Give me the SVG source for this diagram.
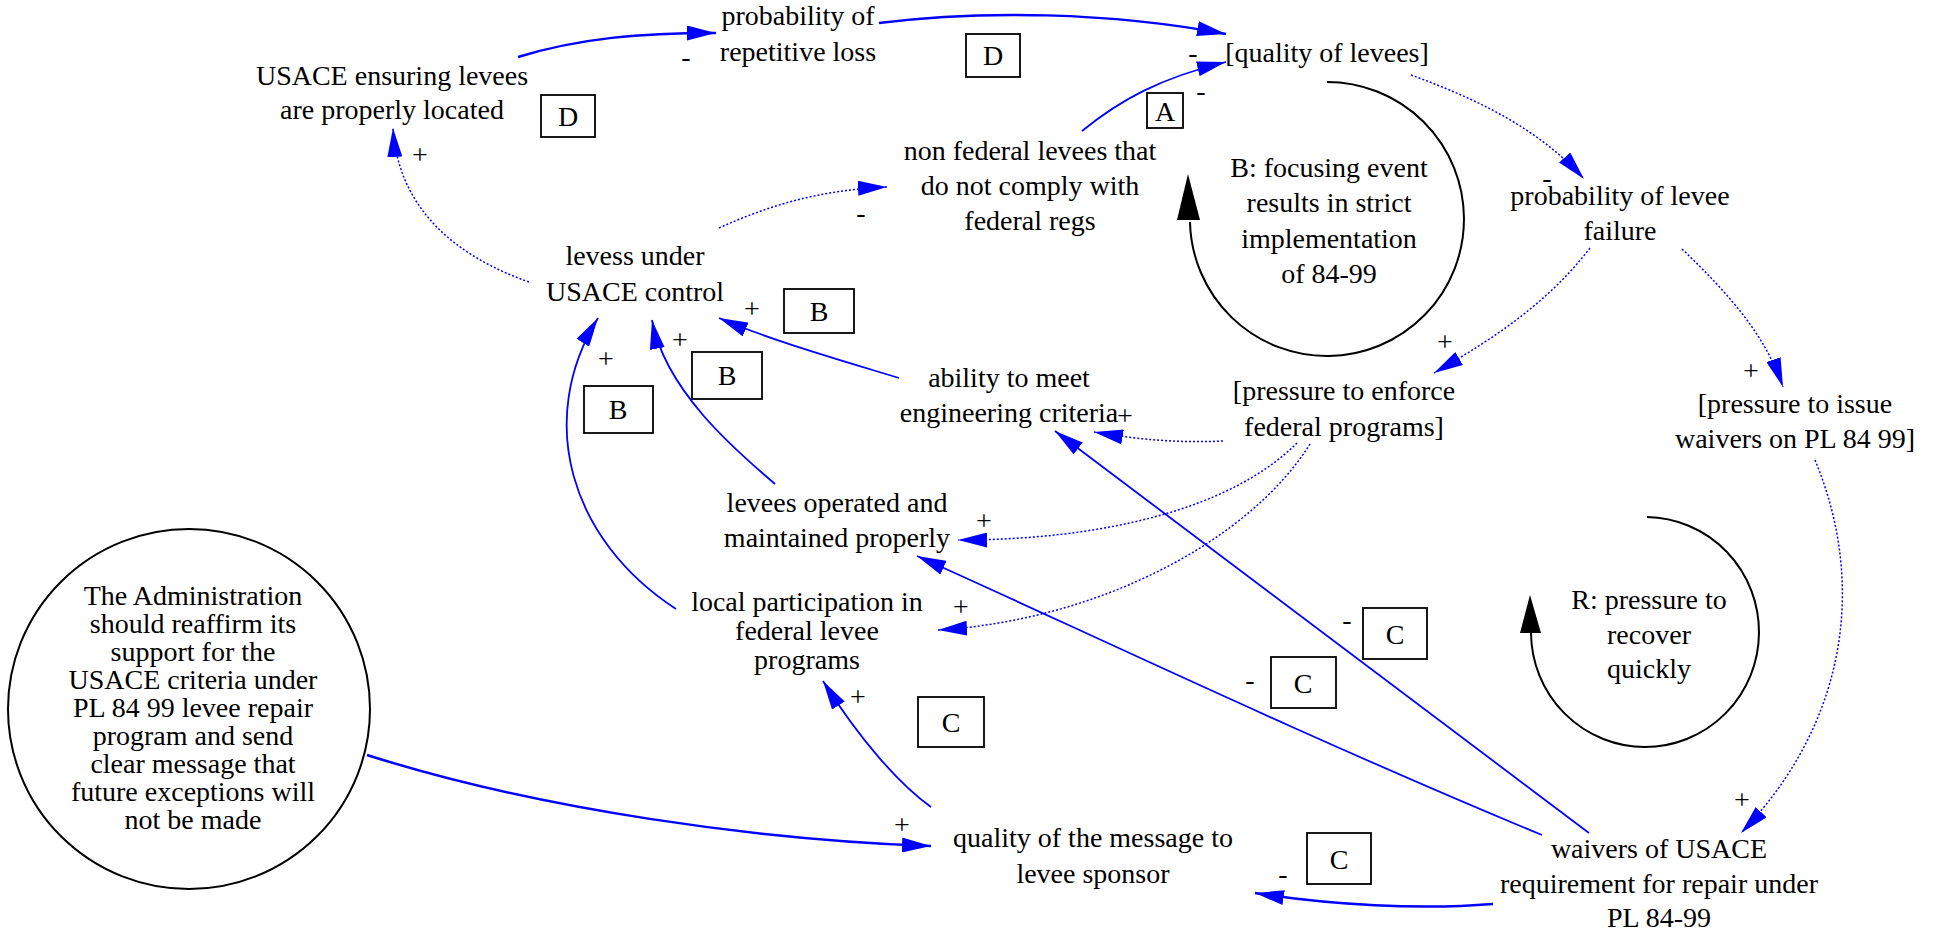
<svg xmlns="http://www.w3.org/2000/svg" width="1946" height="935" viewBox="0 0 1946 935">
<style>
.t{font-family:'Liberation Serif','Times New Roman',serif;font-size:28px;text-anchor:middle;fill:#000}
.s{font-family:'Liberation Serif','Times New Roman',serif;font-size:28px;text-anchor:middle;fill:#000}
.e{fill:none;stroke:#0000ff;stroke-width:1.8}
.w{fill:none;stroke:#0000ff;stroke-width:2.5}
.d{fill:none;stroke:#0000ff;stroke-width:1.5;stroke-dasharray:2,2}
.box{fill:#fff;stroke:#000;stroke-width:1.8}
.loop{fill:none;stroke:#000;stroke-width:2}
</style>
<defs>
<marker id="ah" viewBox="0 0 29 15" refX="29" refY="7.5" markerWidth="29" markerHeight="15" markerUnits="userSpaceOnUse" orient="auto">
<path d="M0,0 L29,7.5 L0,15 z" fill="#0000ff"/>
</marker>
</defs>
<rect width="1946" height="935" fill="#fff"/>

<g id="connectors">
<path class="w" d="M518,57 C580,38 640,33 716,33" marker-end="url(#ah)"/>
<path class="w" d="M879,23 C980,10 1110,12 1226,34" marker-end="url(#ah)"/>
<path class="e" d="M1082,131 C1120,100 1160,78 1226,62" marker-end="url(#ah)"/>
<path class="d" d="M719,228 C770,205 820,190 887,187" marker-end="url(#ah)"/>
<path class="d" d="M529,282 C455,256 398,208 393,128" marker-end="url(#ah)"/>
<path class="d" d="M1411,75 C1480,100 1540,130 1584,179" marker-end="url(#ah)"/>
<path class="d" d="M1590,248 C1550,300 1500,335 1434,373" marker-end="url(#ah)"/>
<path class="d" d="M1682,249 C1730,295 1765,335 1783,387" marker-end="url(#ah)"/>
<path class="d" d="M1815,460 C1865,580 1850,720 1741,833" marker-end="url(#ah)"/>
<path class="d" d="M1223,441 C1180,443 1140,440 1094,432" marker-end="url(#ah)"/>
<path class="d" d="M1297,443 C1230,510 1100,540 958,540" marker-end="url(#ah)"/>
<path class="d" d="M1310,444 C1250,540 1100,620 938,630" marker-end="url(#ah)"/>
<path class="e" d="M899,378 C840,360 770,340 719,318" marker-end="url(#ah)"/>
<path class="e" d="M775,484 C735,450 665,390 652,320" marker-end="url(#ah)"/>
<path class="e" d="M676,609 C570,540 535,420 598,318" marker-end="url(#ah)"/>
<path class="w" d="M367,755 C540,810 760,840 931,846" marker-end="url(#ah)"/>
<path class="e" d="M931,807 C900,785 860,740 823,681" marker-end="url(#ah)"/>
<path class="e" d="M1589,833 L1055,431" marker-end="url(#ah)"/>
<path class="e" d="M1542,835 C1300,735 1050,615 917,556" marker-end="url(#ah)"/>
<path class="w" d="M1493,904 C1420,910 1330,905 1255,893" marker-end="url(#ah)"/>
<g id="signs">
<text class="s" x="686" y="66">-</text>
<text class="s" x="1193" y="62">-</text>
<text class="s" x="1201" y="100">-</text>
<text class="s" x="861" y="222">-</text>
<text class="s" x="420" y="164">+</text>
<text class="s" x="1547" y="187">-</text>
<text class="s" x="1445" y="351">+</text>
<text class="s" x="1751" y="380">+</text>
<text class="s" x="1742" y="809">+</text>
<text class="s" x="1125" y="425">+</text>
<text class="s" x="984" y="530">+</text>
<text class="s" x="961" y="616">+</text>
<text class="s" x="752" y="318">+</text>
<text class="s" x="680" y="349">+</text>
<text class="s" x="606" y="368">+</text>
<text class="s" x="902" y="834">+</text>
<text class="s" x="858" y="706">+</text>
<text class="s" x="1347" y="629">-</text>
<text class="s" x="1250" y="689">-</text>
<text class="s" x="1283" y="883">-</text>
</g>
</g>

<g id="loop-B">
<path class="loop" d="M1327,82 A137,137 0 1,1 1190,222"/>
<polygon points="1177,220 1200,220 1188,174" fill="#000"/>
<text class="t" x="1329" y="177">B: focusing event</text>
<text class="t" x="1329" y="212">results in strict</text>
<text class="t" x="1329" y="248">implementation</text>
<text class="t" x="1329" y="283">of 84-99</text>
</g>

<g id="loop-R">
<path class="loop" d="M1647,517 A114,115 0 1,1 1531,633"/>
<polygon points="1520,633 1541,633 1530,595" fill="#000"/>
<text class="t" x="1649" y="609">R: pressure to</text>
<text class="t" x="1649" y="644">recover</text>
<text class="t" x="1649" y="678">quickly</text>
</g>

<g id="usace-ensuring">
<text class="t" x="392" y="85">USACE ensuring levees</text>
<text class="t" x="392" y="119">are properly located</text>
</g>
<g id="prob-repetitive">
<text class="t" x="798" y="25">probability of</text>
<text class="t" x="798" y="61">repetitive loss</text>
</g>
<g id="quality-levees">
<text class="t" x="1327" y="62">[quality of levees]</text>
</g>
<g id="non-federal">
<text class="t" x="1030" y="160">non federal levees that</text>
<text class="t" x="1030" y="195">do not comply with</text>
<text class="t" x="1030" y="230">federal regs</text>
</g>
<g id="levess-under">
<text class="t" x="635" y="265">levess under</text>
<text class="t" x="635" y="301">USACE control</text>
</g>
<g id="prob-failure">
<text class="t" x="1620" y="205">probability of levee</text>
<text class="t" x="1620" y="240">failure</text>
</g>
<g id="pressure-enforce">
<text class="t" x="1344" y="400">[pressure to enforce</text>
<text class="t" x="1344" y="436">federal programs]</text>
</g>
<g id="pressure-waivers">
<text class="t" x="1795" y="413">[pressure to issue</text>
<text class="t" x="1795" y="448">waivers on PL 84 99]</text>
</g>
<g id="ability">
<text class="t" x="1009" y="387">ability to meet</text>
<text class="t" x="1009" y="422">engineering criteria</text>
</g>
<g id="operated">
<text class="t" x="837" y="512">levees operated and</text>
<text class="t" x="837" y="547">maintained properly</text>
</g>
<g id="local-participation">
<text class="t" x="807" y="611">local participation in</text>
<text class="t" x="807" y="640">federal levee</text>
<text class="t" x="807" y="669">programs</text>
</g>
<g id="quality-message">
<text class="t" x="1093" y="847">quality of the message to</text>
<text class="t" x="1093" y="883">levee sponsor</text>
</g>
<g id="waivers">
<text class="t" x="1659" y="858">waivers of USACE</text>
<text class="t" x="1659" y="893">requirement for repair under</text>
<text class="t" x="1659" y="927">PL 84-99</text>
</g>
<g id="administration">
<ellipse cx="189" cy="709" rx="181" ry="180" fill="none" stroke="#000" stroke-width="2"/>
<text class="t" x="193" y="605">The Administration</text>
<text class="t" x="193" y="633">should reaffirm its</text>
<text class="t" x="193" y="661">support for the</text>
<text class="t" x="193" y="689">USACE criteria under</text>
<text class="t" x="193" y="717">PL 84 99 levee repair</text>
<text class="t" x="193" y="745">program and send</text>
<text class="t" x="193" y="773">clear message that</text>
<text class="t" x="193" y="801">future exceptions will</text>
<text class="t" x="193" y="829">not be made</text>
</g>

<g id="label-D1"><rect class="box" x="541" y="95" width="54" height="42"/><text class="t" x="568" y="126">D</text></g>
<g id="label-D2"><rect class="box" x="966" y="34" width="54" height="43"/><text class="t" x="993" y="65">D</text></g>
<g id="label-A"><rect class="box" x="1147" y="93" width="36" height="35"/><text class="t" x="1165" y="121">A</text></g>
<g id="label-B1"><rect class="box" x="784" y="289" width="70" height="44"/><text class="t" x="819" y="321">B</text></g>
<g id="label-B2"><rect class="box" x="692" y="352" width="70" height="47"/><text class="t" x="727" y="385">B</text></g>
<g id="label-B3"><rect class="box" x="584" y="386" width="69" height="47"/><text class="t" x="618" y="419">B</text></g>
<g id="label-C1"><rect class="box" x="918" y="697" width="66" height="50"/><text class="t" x="951" y="732">C</text></g>
<g id="label-C2"><rect class="box" x="1363" y="608" width="64" height="51"/><text class="t" x="1395" y="644">C</text></g>
<g id="label-C3"><rect class="box" x="1271" y="657" width="65" height="51"/><text class="t" x="1303" y="693">C</text></g>
<g id="label-C4"><rect class="box" x="1307" y="833" width="64" height="51"/><text class="t" x="1339" y="869">C</text></g>
</svg>
